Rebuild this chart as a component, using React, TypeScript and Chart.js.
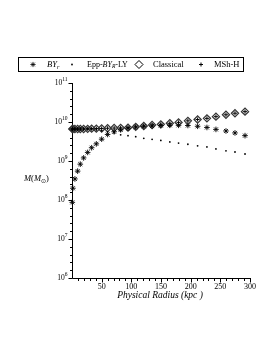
import React, { useEffect, useRef } from 'react';
import { Chart, registerables } from 'chart.js';

Chart.register(...registerables);

// Physical radius (kpc)
const radiusKpc = [0.5, 1.5, 4.9, 9.5, 14, 19.6, 26.4, 33.1, 41, 50, 60, 71, 82, 94.4, 107.4, 121, 135, 149.7, 164.9, 179.6, 195.3, 211.7, 227.4, 242.6, 259.5, 274.7, 291.6];

// Mass (solar masses)
const byR = [8.7e7, 2.0e8, 3.47e8, 5.5e8, 8.3e8, 1.2e9, 1.66e9, 2.19e9, 2.75e9, 3.63e9, 4.79e9, 5.62e9, 6.31e9, 6.92e9, 7.41e9, 7.76e9, 7.94e9, 8.13e9, 8.22e9, 8.22e9, 8.13e9, 7.76e9, 7.24e9, 6.46e9, 5.89e9, 5.25e9, 4.47e9];
const eppByRLy = [6.6e9, 6.6e9, 6.6e9, 6.6e9, 6.6e9, 6.6e9, 6.6e9, 6.5e9, 6.3e9, 6.0e9, 5.6e9, 5.25e9, 4.68e9, 4.46e9, 4.2e9, 3.82e9, 3.6e9, 3.36e9, 3.09e9, 2.88e9, 2.69e9, 2.45e9, 2.29e9, 2.04e9, 1.82e9, 1.70e9, 1.51e9];
const classical = [6.61e9, 6.61e9, 6.61e9, 6.61e9, 6.61e9, 6.61e9, 6.68e9, 6.76e9, 6.76e9, 6.84e9, 6.92e9, 7.0e9, 7.08e9, 7.16e9, 7.5e9, 7.89e9, 8.38e9, 8.71e9, 9.27e9, 9.77e9, 1.07e10, 1.16e10, 1.24e10, 1.37e10, 1.53e10, 1.68e10, 1.84e10];
const mshH = [6.61e9, 6.61e9, 6.61e9, 6.61e9, 6.61e9, 6.61e9, 6.68e9, 6.76e9, 6.76e9, 6.84e9, 6.92e9, 7.0e9, 7.08e9, 7.16e9, 7.5e9, 7.89e9, 8.38e9, 8.71e9, 9.27e9, 9.77e9, 1.07e10, 1.16e10, 1.24e10, 1.37e10, 1.53e10, 1.68e10, 1.84e10];

const xMajorTicks = [50, 100, 150, 200, 250, 300];
const xMinorTicks = [10, 20, 30, 40, 60, 70, 80, 90, 110, 120, 130, 140, 160, 170, 180, 190, 210, 220, 230, 240, 260, 270, 280, 290];
const yDecades = [6, 7, 8, 9, 10, 11];
const yMinorSteps = [0.2, 0.4, 0.6, 0.8];

const SERIF = '"Liberation Serif", "Times New Roman", serif';

type Run = { t: string; italic?: boolean; size: number; dy?: number };

function drawRuns(ctx: CanvasRenderingContext2D, x: number, y: number, runs: Run[]) {
  let cx = x;
  for (const r of runs) {
    ctx.font = `${r.italic ? 'italic ' : ''}${r.size}px ${SERIF}`;
    ctx.fillText(r.t, cx, y + (r.dy || 0));
    cx += ctx.measureText(r.t).width;
  }
  return cx;
}

function runsWidth(ctx: CanvasRenderingContext2D, runs: Run[]) {
  let w = 0;
  for (const r of runs) {
    ctx.font = `${r.italic ? 'italic ' : ''}${r.size}px ${SERIF}`;
    w += ctx.measureText(r.t).width;
  }
  return w;
}

function starMarker(ctx: CanvasRenderingContext2D, x: number, y: number, r: number) {
  ctx.beginPath();
  for (let k = 0; k < 4; k++) {
    const a = (k * Math.PI) / 4;
    const dx = Math.cos(a) * r;
    const dy = Math.sin(a) * r;
    ctx.moveTo(x - dx, y - dy);
    ctx.lineTo(x + dx, y + dy);
  }
  ctx.stroke();
}

const axesPlugin = {
  id: 'axesPlugin',
  beforeDatasetsDraw(chart: any) {
    const ctx = chart.ctx as CanvasRenderingContext2D;
    const xs = chart.scales.x;
    const ys = chart.scales.y;
    const ca = chart.chartArea;
    ctx.save();
    ctx.strokeStyle = '#000';
    ctx.fillStyle = '#000';
    ctx.lineWidth = 1;
    const ax = Math.round(ca.left) + 0.5;
    const ay = Math.round(ca.bottom) + 0.5;
    ctx.beginPath();
    ctx.moveTo(ax, Math.round(ca.top));
    ctx.lineTo(ax, ay);
    ctx.lineTo(Math.round(ca.right) + 1, ay);
    ctx.stroke();

    // x ticks
    ctx.beginPath();
    for (const v of xMajorTicks) {
      const px = Math.round(xs.getPixelForValue(v)) + 0.5;
      ctx.moveTo(px, ay);
      ctx.lineTo(px, ay + 4);
    }
    for (const v of xMinorTicks) {
      const px = Math.round(xs.getPixelForValue(v)) + 0.5;
      ctx.moveTo(px, ay);
      ctx.lineTo(px, ay + 2.5);
    }
    // y ticks
    for (const d of yDecades) {
      const py = Math.round(ys.getPixelForValue(Math.pow(10, d))) + 0.5;
      ctx.moveTo(ax, py);
      ctx.lineTo(ax - 4, py);
      if (d < yDecades[yDecades.length - 1]) {
        for (const s of yMinorSteps) {
          const pm = Math.round(ys.getPixelForValue(Math.pow(10, d + s))) + 0.5;
          ctx.moveTo(ax, pm);
          ctx.lineTo(ax - 2.5, pm);
        }
      }
    }
    ctx.stroke();

    // x labels
    ctx.textAlign = 'center';
    ctx.textBaseline = 'middle';
    ctx.font = `8px ${SERIF}`;
    for (const v of xMajorTicks) {
      ctx.fillText(String(v), xs.getPixelForValue(v), ay + 8);
    }
    // y labels
    ctx.textAlign = 'left';
    for (const d of yDecades) {
      const py = ys.getPixelForValue(Math.pow(10, d));
      const runs: Run[] = [
        { t: '10', size: 7.5, dy: 0 },
        { t: String(d), size: 5.5, dy: -3 },
      ];
      const w = runsWidth(ctx, runs);
      drawRuns(ctx, ax - 5 - w, py, runs);
    }
    ctx.restore();
  },
  afterDraw(chart: any) {
    const ctx = chart.ctx as CanvasRenderingContext2D;
    ctx.save();
    ctx.fillStyle = '#000';
    ctx.strokeStyle = '#000';
    ctx.textBaseline = 'middle';
    ctx.textAlign = 'left';

    // Legend box
    ctx.lineWidth = 1;
    ctx.strokeRect(18.5, 57.5, 225, 14);
    const ly = 64.5;
    // BY_r marker
    ctx.lineWidth = 0.8;
    starMarker(ctx, 33, ly, 2.6);
    drawRuns(ctx, 47, ly, [
      { t: 'BY', italic: true, size: 8.5 },
      { t: 'r', italic: true, size: 6, dy: 2.5 },
    ]);
    // Epp marker
    ctx.beginPath();
    ctx.arc(72, ly, 0.9, 0, Math.PI * 2);
    ctx.fill();
    drawRuns(ctx, 87, ly, [
      { t: 'Epp-', size: 8 },
      { t: 'BY', italic: true, size: 8 },
      { t: 'R', italic: true, size: 5.5, dy: 2.5 },
      { t: '-LY', size: 8 },
    ]);
    // Classical marker
    ctx.lineWidth = 1;
    ctx.beginPath();
    ctx.moveTo(139, ly - 4);
    ctx.lineTo(143, ly);
    ctx.lineTo(139, ly + 4);
    ctx.lineTo(135, ly);
    ctx.closePath();
    ctx.stroke();
    drawRuns(ctx, 153, ly, [{ t: 'Classical', size: 8.5 }]);
    // MSh-H marker
    ctx.beginPath();
    ctx.moveTo(199, ly);
    ctx.lineTo(203, ly);
    ctx.moveTo(201, ly - 2);
    ctx.lineTo(201, ly + 2);
    ctx.stroke();
    drawRuns(ctx, 214, ly, [{ t: 'MSh-H', size: 8.5 }]);

    // Y title
    drawRuns(ctx, 24, 179, [
      { t: 'M', italic: true, size: 8.5 },
      { t: '(', size: 8.5 },
      { t: 'M', italic: true, size: 8.5 },
      { t: '\u2299', size: 5.5, dy: 2.5 },
      { t: ')', size: 8.5 },
    ]);

    // X title
    ctx.textAlign = 'center';
    ctx.font = `italic 9.5px ${SERIF}`;
    ctx.fillText('Physical Radius (kpc )', 160, 295);
    ctx.restore();
  },
};

function toPoints(ys: number[]) {
  return radiusKpc.map((x, i) => ({ x, y: ys[i] }));
}

export default function App() {
  const ref = useRef<HTMLCanvasElement | null>(null);
  useEffect(() => {
    if (!ref.current) return;
    const chart = new Chart(ref.current, {
      type: 'scatter',
      data: {
        datasets: [
          {
            label: 'BY_r',
            data: toPoints(byR),
            pointStyle: 'star',
            pointRadius: 2.8,
            borderWidth: 0.9,
            borderColor: '#000',
            backgroundColor: '#000',
            order: 0,
          },
          {
            label: 'Epp-BY_R-LY',
            data: toPoints(eppByRLy),
            pointStyle: 'circle',
            pointRadius: 0.9,
            borderWidth: 0,
            borderColor: '#000',
            backgroundColor: '#000',
            order: 1,
          },
          {
            label: 'MSh-H',
            data: toPoints(mshH),
            pointStyle: 'cross',
            pointRadius: 2,
            borderWidth: 1,
            borderColor: '#000',
            backgroundColor: '#000',
            order: 2,
          },
          {
            label: 'Classical',
            data: toPoints(classical),
            pointStyle: 'rectRot',
            pointRadius: 3.6,
            borderWidth: 1.2,
            borderColor: '#333',
            backgroundColor: 'rgba(0,0,0,0)',
            order: 3,
          },
        ] as any,
      },
      options: {
        animation: false,
        responsive: false,
        devicePixelRatio: 1,
        clip: false as any,
        layout: { padding: { left: 72, top: 83, right: 27, bottom: 80 } },
        plugins: { legend: { display: false }, tooltip: { enabled: false } },
        events: [],
        scales: {
          x: { type: 'linear', min: 0, max: 300, display: false },
          y: { type: 'logarithmic', min: 1e6, max: 1e11, display: false },
        },
      },
      plugins: [axesPlugin],
    });
    return () => chart.destroy();
  }, []);
  return (
    <div style={{ position: 'fixed', left: 0, top: 0, width: 277, height: 358, background: '#fff' }}>
      <canvas ref={ref} width={277} height={358} style={{ width: 277, height: 358, display: 'block' }} />
    </div>
  );
}
